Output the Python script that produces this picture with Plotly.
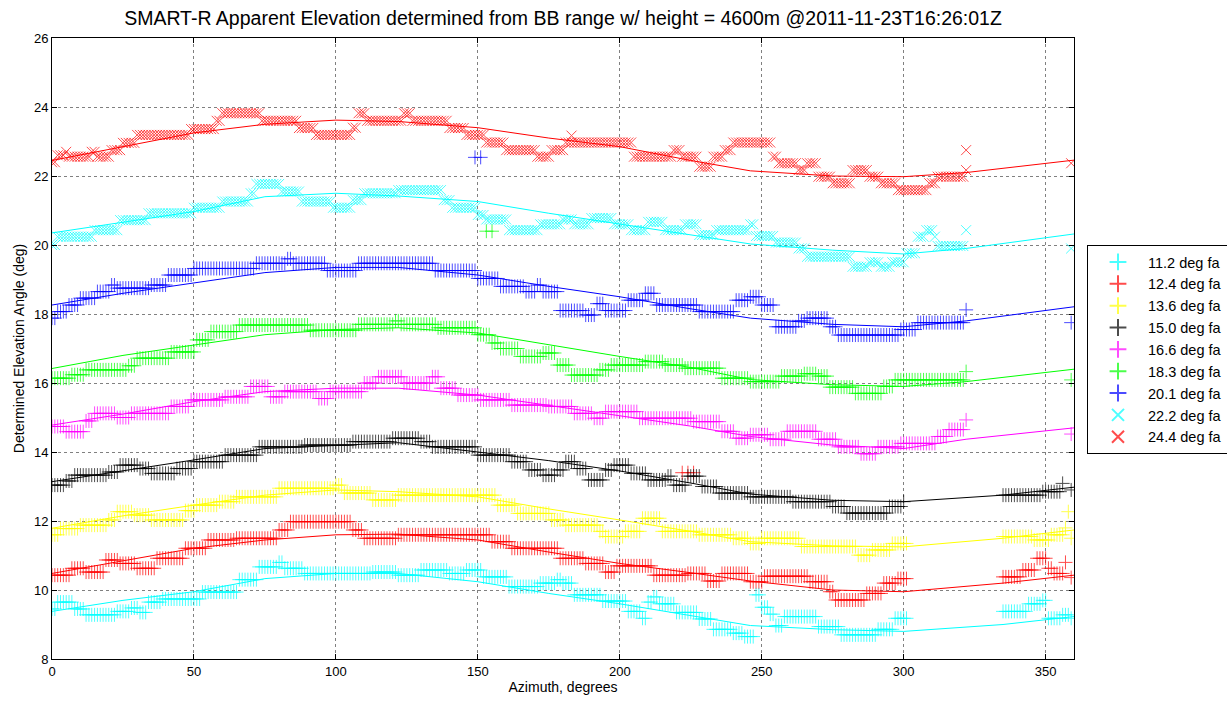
import plotly.graph_objects as go

# ---------------- data (step segments) ----------------
# each series: segment start azimuths, segment elevations (None = gap), last azimuth
s112_start = [0, 2, 8, 12, 23, 28, 31, 34, 39, 53, 66, 73, 80, 82, 89, 113, 122, 130, 140, 146, 152, 161, 172, 178, 180, 184, 194, 203, 208, 210, 212, 214, 220, 228, 233, 240, 244, 248, 250, 253, 255, 258, 270, 278, 291, 297, 302, 335, 344, 349, 351, 356]
s112_val = [9.45, 9.65, 9.45, 9.28, 9.38, 9.48, 9.35, 9.65, 9.74, 9.94, 10.3, 10.67, 10.8, 10.63, 10.48, 10.52, 10.43, 10.58, 10.48, 10.58, 10.38, 10.1, 10.2, 10.3, 10.2, 9.86, 9.68, 9.38, 9.18, 9.65, 9.8, 9.6, 9.35, 9.16, 8.86, 8.75, 8.65, 9.86, 9.5, 9.3, 8.97, 9.23, 8.94, 8.7, 8.86, 9.18, None, 9.38, 9.6, 9.7, 9.18, 9.28]
s112_end = 358
s112_extra_az = [359]
s112_extra_val = [9.18]

s124_start = [0, 7, 12, 19, 24, 30, 37, 47, 55, 65, 80, 84, 106, 110, 122, 155, 162, 179, 188, 195, 199, 212, 224, 231, 236, 246, 251, 267, 274, 276, 287, 293, 298, 302, 335, 342, 347, 351, 353]
s124_val = [10.43, 10.63, 10.52, 10.87, 10.77, 10.63, 10.92, 11.21, 11.45, 11.5, 11.74, 11.98, 11.74, 11.5, 11.6, 11.4, 11.21, 10.92, 10.77, 10.52, 10.7, 10.43, 10.48, 10.26, 10.48, 10.24, 10.4, 10.24, 9.95, 9.71, 9.9, 10.2, 10.33, None, 10.38, 10.58, 10.92, 10.63, 10.48]
s124_end = 356
s124_extra_az = [357, 359, 222, 224, 226]
s124_extra_val = [10.8, 10.36, 13.4, 13.4, 13.4]

s136_start = [0, 3, 10, 20, 23, 29, 35, 47, 51, 59, 65, 80, 100, 103, 113, 122, 157, 164, 176, 181, 193, 195, 202, 208, 215, 228, 240, 246, 250, 264, 284, 289, 296, 302, 335, 346, 352]
s136_val = [11.6, 11.78, 11.88, 12.03, 12.27, 12.17, 12.03, 12.3, 12.46, 12.56, 12.7, 12.95, 13.04, 12.81, 12.61, 12.75, 12.46, 12.22, 12.03, 11.88, 11.7, 11.55, 11.7, 12.08, 11.7, 11.6, 11.5, 11.35, 11.5, 11.26, 11.01, 11.16, 11.35, None, 11.55, 11.45, 11.6]
s136_end = 356
s136_extra_az = [357, 358, 359]
s136_extra_val = [11.8, 12.27, 11.5]

s150_start = [0, 5, 8, 20, 24, 31, 35, 44, 50, 61, 73, 89, 106, 120, 130, 134, 150, 162, 168, 173, 178, 181, 185, 189, 195, 198, 204, 210, 217, 219, 224, 229, 235, 246, 261, 275, 280, 295, 300, 301, 335, 349]
s150_val = [13.04, 13.16, 13.33, 13.42, 13.62, 13.52, 13.38, 13.52, 13.72, 13.91, 14.15, 14.2, 14.3, 14.4, 14.3, 14.15, 13.91, 13.72, 13.48, 13.33, 13.48, 13.72, 13.52, 13.19, 13.48, 13.62, 13.38, 13.19, 13.3, 13.04, 13.3, 13.0, 12.81, 12.7, 12.56, 12.42, 12.23, 12.42, 12.56, None, 12.75, 12.85]
s150_end = 355
s150_extra_az = [356, 359]
s150_extra_val = [13.09, 12.9]

s166_start = [0, 5, 12, 15, 23, 28, 42, 49, 61, 70, 77, 82, 94, 98, 110, 115, 124, 134, 137, 143, 151, 162, 175, 184, 191, 195, 207, 226, 236, 241, 246, 253, 259, 270, 277, 285, 291, 299, 312, 316]
s166_val = [14.74, 14.59, 14.9, 15.12, 15.0, 15.12, 15.32, 15.51, 15.6, 15.9, 15.6, 15.75, 15.55, 15.75, 16.0, 16.18, 16.0, 16.18, 15.85, 15.65, 15.51, 15.36, 15.32, 15.12, 14.98, 15.17, 14.98, 14.88, 14.6, 14.4, 14.5, 14.37, 14.6, 14.37, 14.15, 13.95, 14.15, 14.25, 14.45, 14.65]
s166_end = 321
s166_extra_az = [322, 359]
s166_extra_val = [14.93, 14.52]

s183_start = [0, 7, 12, 27, 30, 42, 51, 56, 66, 91, 108, 121, 123, 136, 150, 155, 158, 165, 173, 178, 183, 193, 197, 209, 216, 223, 236, 246, 257, 265, 270, 274, 283, 293, 297]
s183_val = [16.14, 16.24, 16.38, 16.5, 16.72, 16.9, 17.25, 17.49, 17.68, 17.53, 17.7, 17.8, 17.7, 17.6, 17.4, 17.16, 17.0, 16.77, 16.87, 16.52, 16.23, 16.38, 16.52, 16.62, 16.52, 16.43, 16.14, 16.04, 16.2, 16.27, 16.2, 15.88, 15.7, 15.9, 16.09]
s183_end = 321
s183_extra_az = [322, 359, 153, 155]
s183_extra_val = [16.33, 16.09, 20.4, 20.4]

s201_start = [0, 2, 6, 10, 16, 21, 23, 35, 41, 50, 72, 83, 85, 97, 108, 135, 150, 158, 167, 171, 173, 179, 188, 192, 195, 203, 209, 213, 228, 241, 246, 250, 255, 263, 266, 274, 277, 299, 305]
s201_val = [17.88, 18.07, 18.26, 18.46, 18.65, 18.84, 18.75, 18.84, 19.13, 19.32, 19.47, 19.6, 19.47, 19.26, 19.47, 19.26, 19.03, 18.8, 18.65, 18.84, 18.65, 18.1, 17.97, 18.3, 18.1, 18.4, 18.6, 18.26, 18.07, 18.4, 18.5, 18.26, 17.63, 17.8, 17.88, 17.63, 17.39, 17.55, 17.75]
s201_end = 321
s201_extra_az = [322, 359, 149, 151]
s201_extra_val = [18.12, 17.75, 22.54, 22.54]

s222_start = [0, 2, 15, 24, 34, 50, 60, 70, 72, 81, 88, 99, 106, 110, 122, 138, 141, 150, 153, 161, 172, 180, 184, 190, 198, 204, 210, 216, 223, 228, 234, 246, 248, 255, 263, 266, 282, 288, 292, 296, 301, 305, 308, 311, 312]
s222_val = [20.0, 20.24, 20.43, 20.72, 20.92, 21.08, 21.26, 21.5, 21.77, 21.55, 21.26, 21.08, 21.3, 21.5, 21.59, 21.3, 21.08, 20.87, 20.74, 20.43, 20.6, 20.74, 20.6, 20.78, 20.6, 20.43, 20.67, 20.43, 20.6, 20.29, 20.43, 20.6, 20.26, 20.07, 19.9, 19.66, 19.37, 19.5, 19.37, 19.5, 19.76, 20.24, 20.43, 20.24, 19.97]
s222_end = 321
s222_extra_az = [322, 359]
s222_extra_val = [20.43, 19.9]

s244_start = [0, 2, 5, 6, 14, 16, 21, 25, 30, 49, 58, 60, 74, 87, 93, 106, 108, 111, 124, 127, 140, 146, 153, 160, 171, 176, 181, 205, 219, 222, 228, 233, 237, 240, 254, 256, 263, 266, 270, 275, 282, 288, 292, 298, 309, 312]
s244_val = [22.4, 22.6, 22.7, 22.56, 22.7, 22.56, 22.75, 22.96, 23.19, 23.36, 23.6, 23.82, 23.6, 23.39, 23.19, 23.4, 23.82, 23.6, 23.82, 23.6, 23.39, 23.19, 22.97, 22.75, 22.56, 22.75, 22.97, 22.56, 22.75, 22.56, 22.27, 22.56, 22.75, 22.97, 22.56, 22.37, 22.17, 22.37, 21.98, 21.79, 22.17, 21.98, 21.79, 21.59, 21.79, 21.98]
s244_end = 321
s244_extra_az = [322, 322, 359, 183]
s244_extra_val = [22.17, 22.75, 22.37, 23.17]

# fitted curves (read at sample azimuths)
fit_az = [0, 25, 50, 75, 100, 122, 150, 175, 200, 225, 246, 275, 300, 322, 360]
fit_az_gap = [0, 25, 50, 75, 100, 122, 150, 175, 200, 225, 246, 275, 300, 335, 360]
fit112 = [9.38, 9.7, 9.95, 10.33, 10.48, 10.48, 10.24, 9.9, 9.6, 9.25, 8.97, 8.85, 8.8, 9.0, 9.23]
fit124 = [10.48, 10.85, 11.21, 11.45, 11.6, 11.62, 11.45, 11.1, 10.77, 10.5, 10.26, 10.0, 9.95, 10.2, 10.43]
fit136 = [11.79, 12.15, 12.46, 12.75, 12.9, 12.85, 12.7, 12.35, 12.03, 11.7, 11.4, 11.28, 11.25, 11.5, 11.74]
fit150 = [13.14, 13.45, 13.77, 14.1, 14.2, 14.27, 14.0, 13.75, 13.45, 13.1, 12.78, 12.6, 12.56, 12.75, 12.98]
fit166 = [14.78, 15.1, 15.46, 15.75, 15.85, 15.85, 15.65, 15.35, 15.03, 14.75, 14.45, 14.2, 14.1, 14.37, 14.7]
fit183 = [16.42, 16.8, 17.1, 17.4, 17.55, 17.6, 17.45, 17.1, 16.77, 16.45, 16.1, 15.95, 15.9, 16.04, 16.4]
fit201 = [18.26, 18.6, 18.9, 19.2, 19.35, 19.35, 19.13, 18.8, 18.5, 18.15, 17.88, 17.7, 17.63, 17.8, 18.21]
fit222 = [20.35, 20.65, 20.97, 21.4, 21.5, 21.42, 21.26, 20.92, 20.6, 20.3, 20.03, 19.85, 19.74, 19.9, 20.32]
fit244 = [22.45, 22.85, 23.25, 23.5, 23.62, 23.58, 23.4, 23.1, 22.85, 22.45, 22.15, 22.0, 21.98, 22.1, 22.46]

labels = ["11.2 deg fa", "12.4 deg fa", "13.6 deg fa", "15.0 deg fa", "16.6 deg fa",
          "18.3 deg fa", "20.1 deg fa", "22.2 deg fa", "24.4 deg fa"]

x_ticks = [0, 50, 100, 150, 200, 250, 300, 350]
y_ticks = [8, 10, 12, 14, 16, 18, 20, 22, 24, 26]

# ---------------- build ----------------
def expand(starts, vals, end, extra_az, extra_val):
    az, el = [], []
    for i, (s, v) in enumerate(zip(starts, vals)):
        e = starts[i + 1] if i + 1 < len(starts) else end + 1
        if v is None:
            continue
        for a in range(s, e):
            az.append(a)
            el.append(v)
    az += list(extra_az)
    el += list(extra_val)
    return az, el

series = [
    (s112_start, s112_val, s112_end, s112_extra_az, s112_extra_val, fit_az_gap, fit112, "#00FFFF", "cross-thin"),
    (s124_start, s124_val, s124_end, s124_extra_az, s124_extra_val, fit_az_gap, fit124, "#FF0000", "cross-thin"),
    (s136_start, s136_val, s136_end, s136_extra_az, s136_extra_val, fit_az_gap, fit136, "#FFFF00", "cross-thin"),
    (s150_start, s150_val, s150_end, s150_extra_az, s150_extra_val, fit_az_gap, fit150, "#000000", "cross-thin"),
    (s166_start, s166_val, s166_end, s166_extra_az, s166_extra_val, fit_az, fit166, "#FF00FF", "cross-thin"),
    (s183_start, s183_val, s183_end, s183_extra_az, s183_extra_val, fit_az, fit183, "#00FF00", "cross-thin"),
    (s201_start, s201_val, s201_end, s201_extra_az, s201_extra_val, fit_az, fit201, "#0000FF", "cross-thin"),
    (s222_start, s222_val, s222_end, s222_extra_az, s222_extra_val, fit_az, fit222, "#00FFFF", "x-thin"),
    (s244_start, s244_val, s244_end, s244_extra_az, s244_extra_val, fit_az, fit244, "#FF0000", "x-thin"),
]

fig = go.Figure()
for (st, vl, en, eaz, ev, faz, fv, col, sym), lab in zip(series, labels):
    az, el = expand(st, vl, en, eaz, ev)
    fig.add_trace(go.Scatter(
        x=az, y=el, mode="markers", name=lab,
        marker=dict(symbol=sym, size=10, color=col, opacity=0.7,
                    line=dict(color=col, width=1)),
    ))
    fig.add_trace(go.Scatter(
        x=faz, y=fv, mode="lines", showlegend=False, hoverinfo="skip",
        line=dict(color=col, width=1),
    ))

font_family = "Liberation Sans, Arial, Helvetica, sans-serif"
axis_common = dict(
    showline=True, linecolor="black", linewidth=1, mirror="ticks",
    ticks="inside", ticklen=5, tickcolor="black",
    showgrid=True, gridcolor="#808080", griddash="dot", gridwidth=1,
    zeroline=False, automargin=False,
    tickfont=dict(size=13, color="black", family=font_family),
)

fig.update_layout(
    width=1227, height=704,
    paper_bgcolor="white", plot_bgcolor="white",
    margin=dict(l=52, r=153, t=38, b=45, autoexpand=False),
    font=dict(family=font_family, color="black", size=13),
    title=dict(
        text="SMART-R Apparent Elevation determined from BB range w/ height = 4600m @2011-11-23T16:26:01Z",
        x=(52 + 1074) / 2 / 1227, xanchor="center", y=1 - 18 / 704, yanchor="middle",
        font=dict(size=19.5, color="black", family=font_family),
    ),
    xaxis=dict(range=[0, 360], tickvals=x_ticks, ticktext=[str(v) for v in x_ticks],
               title=dict(text="Azimuth, degrees", font=dict(size=14), standoff=4), **axis_common),
    yaxis=dict(range=[8, 26], tickvals=y_ticks, ticktext=[str(v) for v in y_ticks],
               title=dict(text="Determined Elevation Angle (deg)", font=dict(size=14), standoff=6), **axis_common),
    legend=dict(
        xref="container", yref="container",
        x=1087 / 1227, xanchor="left", y=1 - 349.5 / 704, yanchor="middle",
        bordercolor="black", borderwidth=1, bgcolor="white",
        font=dict(size=14.5, color="black", family=font_family),
        itemsizing="constant", itemwidth=50, tracegroupgap=0,
    ),
    showlegend=True,
)

fig.write_html("out.html", config={"displayModeBar": False},
               post_script="document.body.style.margin='0';")
